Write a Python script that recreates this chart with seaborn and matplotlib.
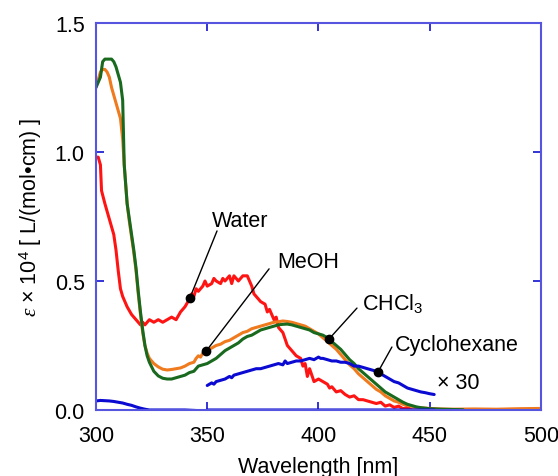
import numpy as np
import matplotlib
matplotlib.use("Agg")
import matplotlib.pyplot as plt
import seaborn as sns

# absorption spectra (wavelength nm, epsilon x 1e4)
water_wl = [300, 301, 302, 302.5, 304, 306, 308, 309, 310, 311, 312, 313, 314, 316, 318, 320, 321, 322,
            324, 326, 328, 330, 332, 334, 336, 338, 340, 342, 343, 344, 345, 346, 348, 349, 350, 352,
            353, 354, 356, 357, 358, 360, 361, 362, 364, 366, 368, 369, 370, 371, 372, 374, 376, 377,
            378, 380, 381, 382, 384, 386, 388, 390, 392, 393, 394, 395, 396, 398, 400, 402, 404, 405,
            406, 408, 410, 412, 414, 416, 418, 420, 422, 424, 426, 428, 430, 432, 434, 436, 438, 440,
            442, 446]
water_eps = [0.98, 0.98, 0.95, 0.85, 0.80, 0.74, 0.68, 0.62, 0.54, 0.47, 0.44, 0.42, 0.40, 0.37, 0.35,
             0.33, 0.34, 0.33, 0.35, 0.34, 0.35, 0.34, 0.35, 0.36, 0.35, 0.38, 0.40, 0.43, 0.45, 0.44,
             0.47, 0.46, 0.48, 0.50, 0.48, 0.49, 0.51, 0.50, 0.49, 0.51, 0.50, 0.52, 0.49, 0.52, 0.50,
             0.52, 0.52, 0.50, 0.48, 0.45, 0.44, 0.42, 0.41, 0.38, 0.39, 0.35, 0.36, 0.32, 0.30, 0.25,
             0.23, 0.21, 0.20, 0.17, 0.18, 0.13, 0.16, 0.11, 0.12, 0.11, 0.10, 0.085, 0.09, 0.07, 0.075,
             0.06, 0.05, 0.055, 0.04, 0.04, 0.035, 0.03, 0.025, 0.03, 0.015, 0.02, 0.01, 0.015, 0.005,
             0.01, 0.0, 0.0]

meoh_wl = [300, 301, 302, 303, 304, 305, 306, 307, 308, 309, 310, 311, 312, 312.7, 314, 315, 316, 317,
           318, 319, 320, 321, 322, 323, 324, 326, 328, 330, 332, 334, 336, 338, 340, 342, 344, 345,
           346, 347, 348, 350, 352, 354, 356, 358, 360, 362, 364, 366, 368, 370, 372, 374, 376, 378,
           380, 382, 384, 386, 388, 390, 392, 394, 396, 398, 400, 402, 404, 406, 408, 410, 412, 414,
           416, 418, 420, 422, 424, 426, 428, 430, 432, 434, 436, 438, 440, 442, 444, 446, 450, 455,
           460, 470, 480, 490, 500]
meoh_eps = [1.25, 1.28, 1.31, 1.32, 1.32, 1.31, 1.29, 1.25, 1.22, 1.19, 1.16, 1.13, 1.05, 0.95, 0.80,
            0.73, 0.67, 0.61, 0.54, 0.45, 0.37, 0.30, 0.25, 0.22, 0.20, 0.18, 0.167, 0.158, 0.155,
            0.157, 0.16, 0.163, 0.17, 0.18, 0.185, 0.20, 0.21, 0.205, 0.22, 0.23, 0.24, 0.25, 0.255,
            0.265, 0.27, 0.28, 0.29, 0.30, 0.305, 0.315, 0.32, 0.325, 0.33, 0.335, 0.34, 0.342, 0.345,
            0.343, 0.34, 0.335, 0.33, 0.325, 0.315, 0.305, 0.295, 0.28, 0.265, 0.25, 0.235, 0.215,
            0.195, 0.175, 0.16, 0.14, 0.125, 0.11, 0.095, 0.08, 0.07, 0.055, 0.045, 0.035, 0.03, 0.022,
            0.018, 0.014, 0.01, 0.008, 0.006, 0.004, 0.003, 0.004, 0.003, 0.005, 0.006]

chcl3_wl = [300, 301, 302, 303, 304, 306, 307, 308, 309, 310, 311, 312, 312.7, 314, 315, 316, 317, 318,
            319, 320, 321, 322, 323, 324, 326, 328, 330, 332, 334, 336, 338, 340, 342, 344, 346, 348,
            350, 352, 354, 356, 358, 360, 362, 364, 366, 368, 370, 372, 374, 376, 378, 380, 382, 384,
            386, 388, 390, 392, 394, 396, 398, 400, 402, 404, 406, 408, 410, 412, 414, 416, 418, 420,
            422, 424, 426, 428, 430, 432, 434, 436, 438, 440, 442, 444, 446, 450, 455, 460, 465]
chcl3_eps = [1.25, 1.27, 1.29, 1.35, 1.36, 1.36, 1.36, 1.35, 1.33, 1.30, 1.27, 1.20, 0.95, 0.80, 0.74,
             0.68, 0.62, 0.55, 0.46, 0.38, 0.31, 0.25, 0.21, 0.185, 0.15, 0.132, 0.123, 0.12, 0.12,
             0.125, 0.13, 0.135, 0.145, 0.15, 0.17, 0.175, 0.18, 0.19, 0.20, 0.215, 0.23, 0.24, 0.25,
             0.26, 0.275, 0.285, 0.29, 0.30, 0.31, 0.315, 0.32, 0.325, 0.33, 0.332, 0.333, 0.33, 0.325,
             0.32, 0.315, 0.31, 0.30, 0.295, 0.29, 0.28, 0.265, 0.25, 0.235, 0.215, 0.195, 0.18, 0.16,
             0.145, 0.13, 0.115, 0.10, 0.085, 0.07, 0.06, 0.05, 0.04, 0.03, 0.022, 0.017, 0.012, 0.009,
             0.005, 0.003, 0.002, 0.001]

# cyclohexane as measured and the x30 magnified part
cyhex_wl = [300, 302, 304, 306, 308, 310, 312, 314, 316, 318, 320, 322, 324, 330, 340, 345, 347, 348,
            349, 350, 360, 400, 452]
cyhex_eps = [0.035, 0.037, 0.036, 0.035, 0.033, 0.03, 0.027, 0.022, 0.018, 0.012, 0.007, 0.003, 0.0,
             0.0, 0.0, -0.002, -0.008, -0.01, -0.006, 0.0, 0.0, 0.0, 0.0]

cyhex30_wl = [350, 351, 352, 353, 354, 356, 358, 360, 361, 362, 364, 366, 368, 370, 372, 374, 376, 378,
              380, 382, 384, 385, 386, 388, 390, 392, 394, 396, 398, 400, 401, 402, 404, 406, 408, 410,
              412, 414, 416, 418, 420, 422, 424, 426, 428, 430, 432, 434, 436, 438, 440, 442, 444, 446,
              448, 450, 452]
cyhex30_eps = [0.095, 0.10, 0.105, 0.10, 0.11, 0.115, 0.12, 0.13, 0.125, 0.135, 0.14, 0.145, 0.15,
               0.155, 0.16, 0.16, 0.165, 0.17, 0.175, 0.18, 0.175, 0.19, 0.18, 0.185, 0.19, 0.19, 0.195,
               0.20, 0.195, 0.205, 0.20, 0.20, 0.195, 0.19, 0.19, 0.185, 0.185, 0.18, 0.17, 0.17, 0.165,
               0.16, 0.155, 0.15, 0.14, 0.13, 0.12, 0.11, 0.105, 0.095, 0.085, 0.08, 0.075, 0.07, 0.067,
               0.063, 0.06]

# labels: text, anchor of the text, start of leader line, wavelength of the dot, curve
labels = ["Water", "MeOH", "CHCl$_3$", "Cyclohexane"]
label_pos = [(352.1, 0.713), (381.3, 0.554), (419.6, 0.391), (434.4, 0.233)]
leader_start = [(354.4, 0.694), (377.8, 0.547), (417.3, 0.395), (433.0, 0.244)]
dot_wl = [342.2, 349.4, 404.7, 426.7]

sns.set_theme(style="white")
plt.rcParams["font.family"] = ["Liberation Sans", "DejaVu Sans"]
plt.rcParams["mathtext.fontset"] = "custom"
plt.rcParams["mathtext.rm"] = "Liberation Sans"
plt.rcParams["mathtext.it"] = "Liberation Serif:italic"
plt.rcParams["text.color"] = "black"
plt.rcParams["axes.labelcolor"] = "black"

fig = plt.figure(figsize=(5.58, 4.77), dpi=100)
ax = fig.add_axes([0.172, 0.1384, 0.7975, 0.8113])

curves = [
    (water_wl, water_eps, "#ff1414"),
    (meoh_wl, meoh_eps, "#f07a1e"),
    (chcl3_wl, chcl3_eps, "#19691e"),
    (cyhex_wl, cyhex_eps, "#0a0ad2"),
    (cyhex30_wl, cyhex30_eps, "#0a0ad2"),
]
for wl, eps, col in curves:
    sns.lineplot(x=wl, y=eps, ax=ax, color=col, linewidth=2.2, estimator=None, sort=False)

dot_curves = [(water_wl, water_eps), (meoh_wl, meoh_eps), (chcl3_wl, chcl3_eps), (cyhex30_wl, cyhex30_eps)]
for lab, tp, ls, dwl, (wl, eps) in zip(labels, label_pos, leader_start, dot_wl, dot_curves):
    dy = np.interp(dwl, wl, eps)
    ax.plot([ls[0], dwl], [ls[1], dy], color="black", linewidth=1.0)
    ax.plot(dwl, dy, "o", color="black", markersize=6)
    ax.text(tp[0], tp[1], lab, fontsize=15.5, ha="left", va="baseline")

ax.text(453.3, 0.085, "\u00d7 30", fontsize=15.5, ha="left", va="baseline")

ax.set_xlim(300, 500)
ax.set_ylim(0, 1.5)
ax.set_xticks([300, 350, 400, 450, 500])
ax.set_yticks([0.0, 0.5, 1.0, 1.5])
ax.set_yticklabels(["0.0", "0.5", "1.0", "1.5"])
ax.tick_params(direction="in", length=6, width=1.2, color="#1010d0", labelcolor="black",
               labelsize=15.5, pad=8, top=True, right=True, bottom=True, left=True)
ax.tick_params(axis="x", pad=11)
for sp in ax.spines.values():
    sp.set_color("#5555e0")
    sp.set_linewidth(1.5)

ax.set_xlabel("Wavelength [nm]", fontsize=15.5, labelpad=7)
ax.set_ylabel("$\\it{\\varepsilon}$ \u00d7 10$^4$ [ L/(mol\u2022cm) ]", fontsize=15.5, labelpad=8)

fig.savefig("out.png", dpi=100)
